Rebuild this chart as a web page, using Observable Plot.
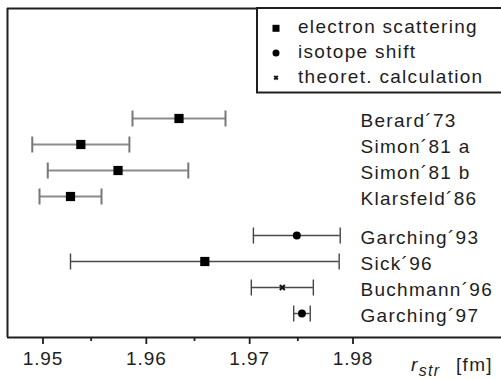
<!DOCTYPE html>
<html><head><meta charset="utf-8">
<script src="https://cdn.jsdelivr.net/npm/d3@7"></script>
<script src="https://cdn.jsdelivr.net/npm/@observablehq/plot@0.6"></script>
<style>
html,body{margin:0;padding:0;background:#fff;overflow:hidden}
#chart svg text{letter-spacing:1.3px}
#chart svg g[aria-label="x-axis tick label"] text{letter-spacing:0.9px}
</style>
</head><body><div id="chart"></div>
<script>
// ---- data ----
const labels = ["Berard\u00B473","Simon\u00B481 a","Simon\u00B481 b","Klarsfeld\u00B486","Garching\u00B493","Sick\u00B496","Buchmann\u00B496","Garching\u00B497"];
const methods = ["electron","electron","electron","electron","isotope","electron","theory","isotope"];
const blocks = [0,0,0,0,1,1,1,1];
const values = [1.9635,1.9540,1.9576,1.9530,1.9749,1.9660,1.9735,1.9754];
const errors = [0.0045,0.0047,0.0068,0.0030,0.0042,0.0130,0.0030,0.0008];
const majorTicks = [1.95,1.96,1.97,1.98];
const minorTicks = [1.955,1.965,1.975];
const legendMethods = ["electron","isotope","theory"];
const legendLabels = ["electron scattering","isotope shift","theoret. calculation"];

// ---- layout ----
const W = 501, H = 379;
const xDomain = [1.9469032, 1.9947097];
const yDomain = [-4.2308, 8.4231];
const labelX = 1.98106;
const FONT = "'Liberation Sans', Arial, Helvetica, sans-serif";
const ink = "#1e1e1e";

const data = labels.map((label, i) => ({
  label, method: methods[i], block: blocks[i], value: values[i], err: errors[i],
  lo: values[i] - errors[i], hi: values[i] + errors[i], pos: i + 0.5 * blocks[i]
}));

const cap = {draw(ctx) { ctx.moveTo(0, -8); ctx.lineTo(0, 8); }};

const plot = Plot.plot({
  width: W, height: H,
  marginLeft: 7, marginRight: 0, marginTop: 8, marginBottom: 42,
  style: {fontFamily: FONT, color: ink, background: "white", overflow: "visible"},
  x: {domain: xDomain, axis: null},
  y: {domain: yDomain, reverse: true, axis: null},
  marks: [
    // error bars
    Plot.ruleY(data.filter(d => d.block === 0), {y: "pos", x1: "lo", x2: "hi", stroke: "#8c8c8c", strokeWidth: 2.2}),
    Plot.ruleY(data.filter(d => d.block === 1), {y: "pos", x1: "lo", x2: "hi", stroke: "#4a4a4a", strokeWidth: 1.4}),
    Plot.dot(data.filter(d => d.block === 0), {x: "lo", y: "pos", symbol: cap, r: 1, stroke: "#777", strokeWidth: 2, fill: "none"}),
    Plot.dot(data.filter(d => d.block === 0), {x: "hi", y: "pos", symbol: cap, r: 1, stroke: "#777", strokeWidth: 2, fill: "none"}),
    Plot.dot(data.filter(d => d.block === 1), {x: "lo", y: "pos", symbol: cap, r: 1, stroke: "#444", strokeWidth: 1.4, fill: "none"}),
    Plot.dot(data.filter(d => d.block === 1), {x: "hi", y: "pos", symbol: cap, r: 1, stroke: "#444", strokeWidth: 1.4, fill: "none"}),
    // markers
    Plot.dot(data.filter(d => d.method === "electron"), {x: "value", y: "pos", symbol: "square", r: 5.2, fill: "#000", stroke: "none"}),
    Plot.dot(data.filter(d => d.method === "isotope"), {x: "value", y: "pos", symbol: "circle", r: 4, fill: "#000", stroke: "none"}),
    Plot.dot(data.filter(d => d.method === "theory"), {x: "value", y: "pos", symbol: "times", r: 2.4, stroke: "#111", strokeWidth: 2}),
    // labels
    Plot.text(data, {x: () => labelX, y: "pos", text: "label", textAnchor: "start", fontSize: 19, dy: 2.6, fill: ink}),
    // frame (left, top, bottom)
    Plot.ruleX([xDomain[0]], {stroke: ink, strokeWidth: 2}),
    Plot.ruleY([yDomain[0], yDomain[1]], {stroke: ink, strokeWidth: 2}),
    // axis
    Plot.axisX(majorTicks, {tickSize: 7, tickPadding: 7, fontSize: 19, dx: 3.5, stroke: ink, strokeWidth: 1.8, fill: ink, tickFormat: d => d.toFixed(2)}),
    Plot.axisX(minorTicks, {tickSize: 4, stroke: ink, strokeWidth: 1.8, tickFormat: () => ""})
  ]
});

document.getElementById("chart").appendChild(plot);

// legend box inside the frame
const svg = d3.select(plot);
const lg = svg.append("g").attr("font-family", FONT).attr("font-size", 19).attr("fill", ink).attr("text-anchor", "start");
lg.append("rect").attr("x", 257).attr("y", 8).attr("width", 262).attr("height", 84.5)
  .attr("fill", "white").attr("stroke", ink).attr("stroke-width", 2);
const symFor = {electron: [d3.symbolSquare, 49], isotope: [d3.symbolCircle, 38.5], theory: [d3.symbolTimes, 10.2]};
legendMethods.forEach((m, i) => {
  const cy = 28.3 + i * 24.7;
  const [type, size] = symFor[m];
  const p = lg.append("path").attr("d", d3.symbol(type, size)()).attr("transform", `translate(276,${cy})`);
  if (m === "theory") p.attr("fill", "none").attr("stroke", "#111").attr("stroke-width", 1.8);
  else p.attr("fill", "#000");
  lg.append("text").attr("x", 298).attr("y", cy + 5).text(legendLabels[i]);
});

// axis title r_str [fm]
const t = svg.append("text").attr("font-family", FONT).attr("font-size", 19).attr("fill", ink)
  .attr("text-anchor", "start").attr("x", 411).attr("y", 371);
t.append("tspan").attr("font-style", "italic").text("r");
t.append("tspan").attr("font-style", "italic").attr("font-size", 16).attr("dy", 5).attr("dx", 0).text("str");
t.append("tspan").attr("x", 456).attr("dy", -5).text("[fm]");
</script>
</body></html>
